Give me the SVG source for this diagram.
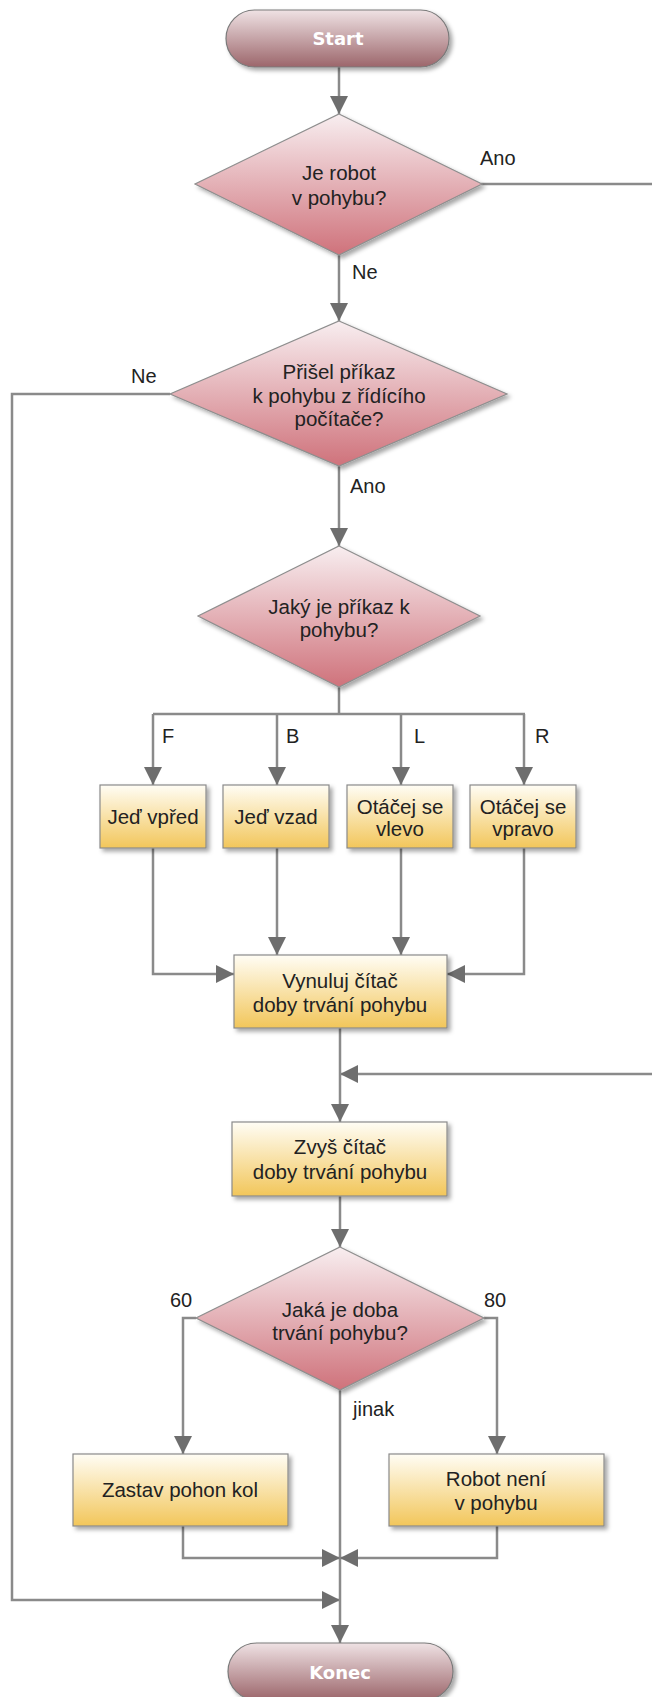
<svg xmlns="http://www.w3.org/2000/svg" width="652" height="1697" viewBox="0 0 652 1697">
<defs>
<linearGradient id="gTerm" x1="0" y1="0" x2="0" y2="1">
<stop offset="0" stop-color="#efe2e4"/><stop offset="1" stop-color="#9c666b"/>
</linearGradient>
<linearGradient id="gDia" x1="0" y1="0" x2="0" y2="1">
<stop offset="0" stop-color="#f8eef0"/><stop offset="1" stop-color="#cf727b"/>
</linearGradient>
<linearGradient id="gBox" x1="0" y1="0" x2="0" y2="1">
<stop offset="0" stop-color="#fffdf5"/><stop offset="1" stop-color="#f2c65a"/>
</linearGradient>
<filter id="sh" x="-10%" y="-10%" width="130%" height="130%">
<feDropShadow dx="3" dy="3" stdDeviation="2" flood-color="#000" flood-opacity="0.35"/>
</filter>
<marker id="arr" markerUnits="userSpaceOnUse" markerWidth="20" markerHeight="20" refX="18" refY="9" orient="auto">
<path d="M0,0 L18,9 L0,18 z" fill="#6e6e6e"/>
</marker>
<style>
.term{fill:url(#gTerm);stroke:#7a7a7a;stroke-width:1.2;filter:url(#sh)}
.dia{fill:url(#gDia);stroke:#8e8e8e;stroke-width:1.2;filter:url(#sh)}
.box{fill:url(#gBox);stroke:#8a8a8a;stroke-width:1.2;filter:url(#sh)}
.tt{font-family:"DejaVu Sans",sans-serif;font-weight:bold;font-size:18px;fill:#fff;text-anchor:middle}
.t{font-family:"Liberation Sans",Arial,sans-serif;font-size:20.5px;fill:#222;text-anchor:middle}
.lb{font-family:"Liberation Sans",Arial,sans-serif;font-size:20px;fill:#222}
.c{fill:none;stroke:#8a8a8a;stroke-width:2.5}
.ca{fill:none;stroke:#8a8a8a;stroke-width:2.5;marker-end:url(#arr)}
</style>
</defs>
<rect width="652" height="1697" fill="#fff"/>

<g id="connectors">
<path class="ca" d="M339,67 L339,114"/>
<path class="ca" d="M339,255 L339,321"/>
<path class="ca" d="M481,184 L656,184 L656,1074 L340,1074"/>
<path class="ca" d="M339,466 L339,546"/>
<path class="ca" d="M170,394 L12,394 L12,1600 L340,1600"/>
<path class="c" d="M339,687 L339,714 M153,714 L525,714"/>
<path class="ca" d="M153,714 L153,785"/>
<path class="ca" d="M277,714 L277,785"/>
<path class="ca" d="M401,714 L401,785"/>
<path class="ca" d="M524,714 L524,785"/>
<path class="ca" d="M153,848 L153,974 L234,974"/>
<path class="ca" d="M277,848 L277,955"/>
<path class="ca" d="M401,848 L401,955"/>
<path class="ca" d="M524,848 L524,974 L447,974"/>
<path class="ca" d="M340,1028 L340,1122"/>
<path class="ca" d="M340,1196 L340,1247"/>
<path class="ca" d="M196,1318 L183,1318 L183,1454"/>
<path class="ca" d="M484,1318 L497,1318 L497,1454"/>
<path class="ca" d="M340,1390 L340,1643"/>
<path class="ca" d="M183,1526 L183,1558 L340,1558"/>
<path class="ca" d="M497,1526 L497,1558 L340,1558"/>
<text class="lb" x="480" y="165">Ano</text>
<text class="lb" x="352" y="279">Ne</text>
<text class="lb" x="131" y="383">Ne</text>
<text class="lb" x="350" y="493">Ano</text>
<text class="lb" x="162" y="743">F</text>
<text class="lb" x="286" y="743">B</text>
<text class="lb" x="414" y="743">L</text>
<text class="lb" x="535" y="743">R</text>
<text class="lb" x="170" y="1307">60</text>
<text class="lb" x="484" y="1307">80</text>
<text class="lb" x="353" y="1416">jinak</text>
</g>

<g id="start">
<rect class="term" x="226" y="10" width="223" height="57" rx="28.5"/>
<text class="tt" x="338" y="45">Start</text>
</g>
<g id="d1">
<polygon class="dia" points="339,114 482,184 339,255 195,184"/>
<text class="t" x="339" y="180">Je robot</text>
<text class="t" x="339" y="205">v pohybu?</text>
</g>
<g id="d2">
<polygon class="dia" points="339,321 507,394 339,466 170,394"/>
<text class="t" x="339" y="379">Přišel příkaz</text>
<text class="t" x="339" y="403">k pohybu z řídícího</text>
<text class="t" x="339" y="426">počítače?</text>
</g>
<g id="d3">
<polygon class="dia" points="339,546 480,616 339,687 198,616"/>
<text class="t" x="339" y="614">Jaký je příkaz k</text>
<text class="t" x="339" y="637">pohybu?</text>
</g>
<g id="bF">
<rect class="box" x="100" y="785" width="106" height="63"/>
<text class="t" x="153" y="824">Jeď vpřed</text>
</g>
<g id="bB">
<rect class="box" x="223" y="785" width="106" height="63"/>
<text class="t" x="276" y="824">Jeď vzad</text>
</g>
<g id="bL">
<rect class="box" x="347" y="785" width="106" height="63"/>
<text class="t" x="400" y="814">Otáčej se</text>
<text class="t" x="400" y="836">vlevo</text>
</g>
<g id="bR">
<rect class="box" x="470" y="785" width="106" height="63"/>
<text class="t" x="523" y="814">Otáčej se</text>
<text class="t" x="523" y="836">vpravo</text>
</g>
<g id="vynuluj">
<rect class="box" x="234" y="955" width="213" height="73"/>
<text class="t" x="340" y="988">Vynuluj čítač</text>
<text class="t" x="340" y="1012">doby trvání pohybu</text>
</g>
<g id="zvys">
<rect class="box" x="232" y="1122" width="215" height="74"/>
<text class="t" x="340" y="1154">Zvyš čítač</text>
<text class="t" x="340" y="1179">doby trvání pohybu</text>
</g>
<g id="d4">
<polygon class="dia" points="340,1247 484,1318 340,1390 196,1318"/>
<text class="t" x="340" y="1317">Jaká je doba</text>
<text class="t" x="340" y="1340">trvání pohybu?</text>
</g>
<g id="zastav">
<rect class="box" x="73" y="1454" width="215" height="72"/>
<text class="t" x="180" y="1497">Zastav pohon kol</text>
</g>
<g id="robot">
<rect class="box" x="389" y="1454" width="215" height="72"/>
<text class="t" x="496" y="1486">Robot není</text>
<text class="t" x="496" y="1510">v pohybu</text>
</g>
<g id="konec">
<rect class="term" x="228" y="1643" width="225" height="57" rx="28.5"/>
<text class="tt" x="340" y="1679">Konec</text>
</g>
</svg>
